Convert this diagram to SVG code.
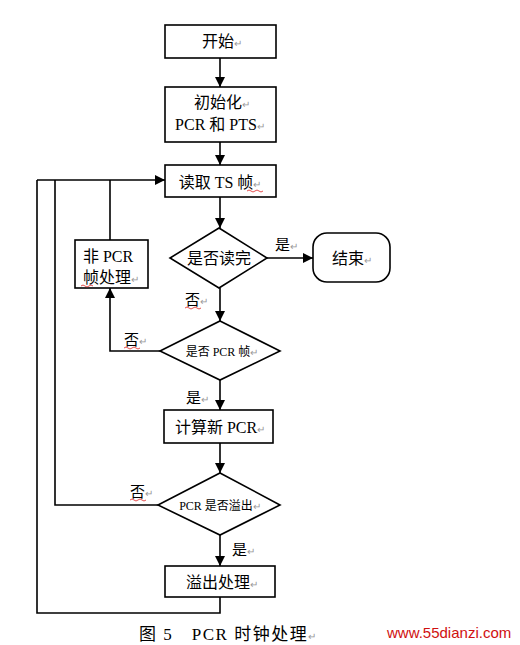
<svg xmlns="http://www.w3.org/2000/svg" width="520" height="645" viewBox="0 0 520 645">
<style>
.box{fill:#fff;stroke:#000;stroke-width:1.6}
.ln{fill:none;stroke:#000;stroke-width:1.6}
.t{font-family:"Liberation Serif","Noto Sans CJK SC",serif;font-size:16px;fill:#000;text-anchor:middle}
.s{font-size:12px}
.r{font-size:10px;fill:#999}
.lbl{font-family:"Liberation Serif","Noto Sans CJK SC",serif;font-size:15px;fill:#000}
.sq{fill:none;stroke:#d22;stroke-width:0.8}
</style>
<defs>
<marker id="ah" viewBox="0 0 10 10" refX="10" refY="5" markerWidth="10" markerHeight="10" markerUnits="userSpaceOnUse" orient="auto">
<path d="M0,0 L10,5 L0,10 z" fill="#000"/>
</marker>
</defs>
<rect width="520" height="645" fill="#fff"/>
<g id="connectors">
<path class="ln" d="M220,58 V87" marker-end="url(#ah)"/>
<path class="ln" d="M220,142 V165" marker-end="url(#ah)"/>
<path class="ln" d="M220,197 V228" marker-end="url(#ah)"/>
<path class="ln" d="M267,258 H313" marker-end="url(#ah)"/>
<path class="ln" d="M220,288 V321" marker-end="url(#ah)"/>
<path class="ln" d="M160,351 H110 V288" marker-end="url(#ah)"/>
<path class="ln" d="M110,240 V180"/>
<path class="ln" d="M37,180 H165" marker-end="url(#ah)"/>
<path class="ln" d="M220,380 V410" marker-end="url(#ah)"/>
<path class="ln" d="M220,443 V473" marker-end="url(#ah)"/>
<path class="ln" d="M158,505 H55 V180"/>
<path class="ln" d="M220,535 V566" marker-end="url(#ah)"/>
<path class="ln" d="M220,597 V613 H37 V180"/>
<text class="lbl" x="275" y="250">是<tspan class="r">↵</tspan></text>
<text class="lbl" x="185" y="305">否<tspan class="r">↵</tspan></text>
<path class="sq" d="M185,308 q2,-2 4,0 t4,0 t4,0 t4,0"/>
<text class="lbl" x="124" y="345">否<tspan class="r">↵</tspan></text>
<path class="sq" d="M124,348 q2,-2 4,0 t4,0 t4,0 t4,0"/>
<text class="lbl" x="186" y="403">是<tspan class="r">↵</tspan></text>
<text class="lbl" x="130" y="497">否<tspan class="r">↵</tspan></text>
<path class="sq" d="M130,500 q2,-2 4,0 t4,0 t4,0 t4,0"/>
<text class="lbl" x="232" y="555">是<tspan class="r">↵</tspan></text>
</g>
<g id="start">
<rect class="box" x="165" y="25" width="111" height="33"/>
<text class="t" x="222" y="47">开始<tspan class="r">↵</tspan></text>
</g>
<g id="init">
<rect class="box" x="165" y="87" width="111" height="55"/>
<text class="t" x="222" y="108">初始化<tspan class="r">↵</tspan></text>
<text class="t" x="220" y="130">PCR 和 PTS<tspan class="r">↵</tspan></text>
</g>
<g id="read">
<rect class="box" x="165" y="165" width="111" height="32"/>
<text class="t" x="220" y="188">读取 TS 帧<tspan class="r">↵</tspan></text>
<path class="sq" d="M247,191 q2,-2 4,0 t4,0 t4,0 t4,0"/>
</g>
<g id="done">
<polygon class="box" points="219,228 267,258 219,288 170,258"/>
<text class="t" x="219" y="264">是否读完</text>
</g>
<g id="end">
<rect class="box" x="313" y="233" width="77" height="49" rx="14"/>
<text class="t" x="352" y="264">结束<tspan class="r">↵</tspan></text>
</g>
<g id="nonpcr">
<rect class="box" x="75" y="240" width="73" height="48"/>
<text class="t" x="108" y="262">非 PCR</text>
<text class="t" x="111" y="283">帧处理<tspan class="r">↵</tspan></text>
<path class="sq" d="M81,286 q2,-2 4,0 t4,0 t4,0"/>
</g>
<g id="ispcr">
<polygon class="box" points="220,321 280,351 220,380 160,351"/>
<text class="t s" x="222" y="356">是否 PCR 帧<tspan class="r">↵</tspan></text>
</g>
<g id="calc">
<rect class="box" x="164" y="410" width="109" height="33"/>
<text class="t" x="220" y="433">计算新 PCR<tspan class="r">↵</tspan></text>
</g>
<g id="overflow">
<polygon class="box" points="220,473 280,505 220,535 158,505"/>
<text class="t s" x="220" y="510">PCR 是否溢出<tspan class="r">↵</tspan></text>
</g>
<g id="handle">
<rect class="box" x="165" y="566" width="110" height="31"/>
<text class="t" x="222" y="588">溢出处理<tspan class="r">↵</tspan></text>
</g>
<g id="caption">
<text class="lbl" x="139" y="640" style="font-size:17px;letter-spacing:1.5px">图 5　PCR 时钟处理<tspan class="r">↵</tspan></text>
<text x="387" y="638" style="font-family:'Liberation Sans',sans-serif;font-size:15px;fill:#d01010">www.55dianzi.com</text>
</g>
</svg>
